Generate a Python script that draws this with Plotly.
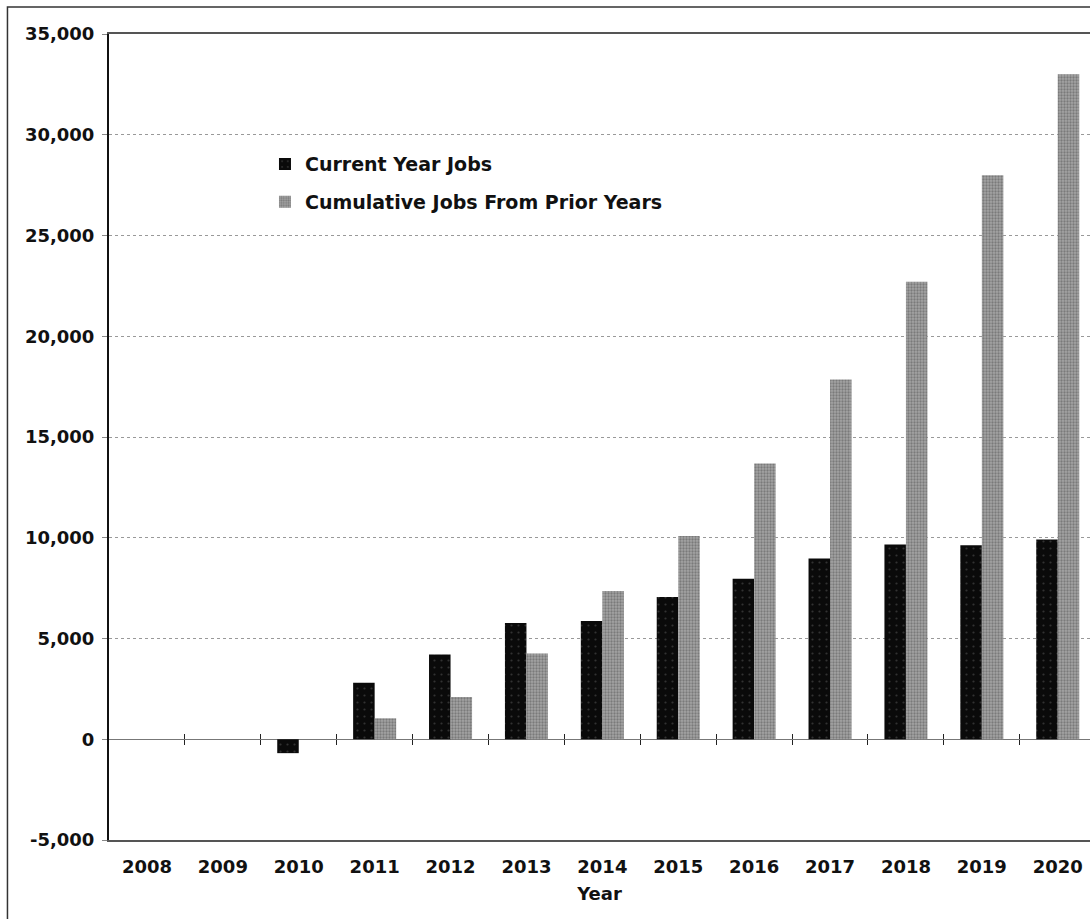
import plotly.graph_objects as go

years = ["2008", "2009", "2010", "2011", "2012", "2013", "2014",
         "2015", "2016", "2017", "2018", "2019", "2020"]
current_jobs = [0, 0, -690, 2800, 4200, 5770, 5870, 7060, 7970, 8970, 9660, 9630, 9910]
cumulative_jobs = [0, 0, 0, 1040, 2100, 4250, 7360, 10090, 13680, 17850, 22700, 27990, 33000]
y_ticks = [-5000, 0, 5000, 10000, 15000, 20000, 25000, 30000, 35000]
y_tick_text = ["-5,000", "0", "5,000", "10,000", "15,000", "20,000", "25,000", "30,000", "35,000"]
boundary_ticks = [i + 0.5 for i in range(len(years) - 1)]

FONT = dict(family="DejaVu Sans", size=18, color="#111111", weight="bold")

fig = go.Figure()
fig.add_trace(go.Bar(
    x=years, y=current_jobs, name="Current Year Jobs",
    legendgroup="a",
    marker=dict(color="#0a0a0a", line=dict(width=0),
                pattern=dict(shape=".", fgcolor="#5a5a5a", size=7, solidity=0.08)),
))
fig.add_trace(go.Bar(
    x=years, y=cumulative_jobs, name="Cumulative Jobs From Prior Years",
    legendgroup="b",
    marker=dict(color="#a4a4a4", line=dict(width=0),
                pattern=dict(shape=".", fgcolor="#505050", size=3, solidity=0.45)),
))
# empty helper traces so the zero-line tick axes are drawn
fig.add_trace(go.Scatter(x=[], y=[], xaxis="x2", yaxis="y", showlegend=False, hoverinfo="skip"))
fig.add_trace(go.Scatter(x=[], y=[], xaxis="x3", yaxis="y", showlegend=False, hoverinfo="skip"))

xr = [-0.5, 12.425]

fig.update_layout(
    width=1090, height=919,
    margin=dict(l=109, r=0, t=34, b=79),
    paper_bgcolor="white", plot_bgcolor="white",
    font=FONT,
    barmode="group", bargap=0.433, bargroupgap=0,
    showlegend=True,
    legend=dict(x=0.159, y=0.862, xanchor="left", yanchor="top",
                font=dict(family="DejaVu Sans", size=19, color="#111111", weight="bold"),
                bgcolor="rgba(0,0,0,0)", traceorder="grouped", tracegroupgap=10),
    xaxis=dict(type="category", range=xr, showgrid=False, zeroline=False,
               showline=True, linecolor="#555555", linewidth=1.5, mirror=True,
               ticks="", tickfont=FONT, ticklabelstandoff=10,
               title=dict(text="Year", font=FONT, standoff=11)),
    xaxis2=dict(type="linear", range=xr, overlaying="x", anchor="free", position=0.125,
                side="bottom", showgrid=False, zeroline=False, showline=False,
                tickmode="array", tickvals=boundary_ticks, ticks="outside",
                ticklen=5, tickwidth=1.3, tickcolor="#222222", showticklabels=False),
    xaxis3=dict(type="linear", range=xr, overlaying="x", anchor="free", position=0.125,
                side="top", showgrid=False, zeroline=False, showline=False,
                tickmode="array", tickvals=boundary_ticks, ticks="outside",
                ticklen=5, tickwidth=1.3, tickcolor="#222222", showticklabels=False),
    yaxis=dict(range=[-5000, 35000], tickmode="array", tickvals=y_ticks,
               ticktext=y_tick_text, showgrid=True, gridcolor="#999999", gridwidth=1,
               griddash="dot", zeroline=True, zerolinecolor="#777777", zerolinewidth=1,
               showline=True, linecolor="#111111", linewidth=2,
               ticks="outside", ticklen=5, tickcolor="#888888",
               tickfont=FONT, ticklabelstandoff=4),
    shapes=[dict(type="rect", xref="paper", yref="paper",
                 x0=-0.1035, y0=1.0335, x1=1.02, y1=-0.12,
                 line=dict(color="#333333", width=1.5), fillcolor="rgba(0,0,0,0)",
                 layer="above")],
)

fig.write_html("out.html")
